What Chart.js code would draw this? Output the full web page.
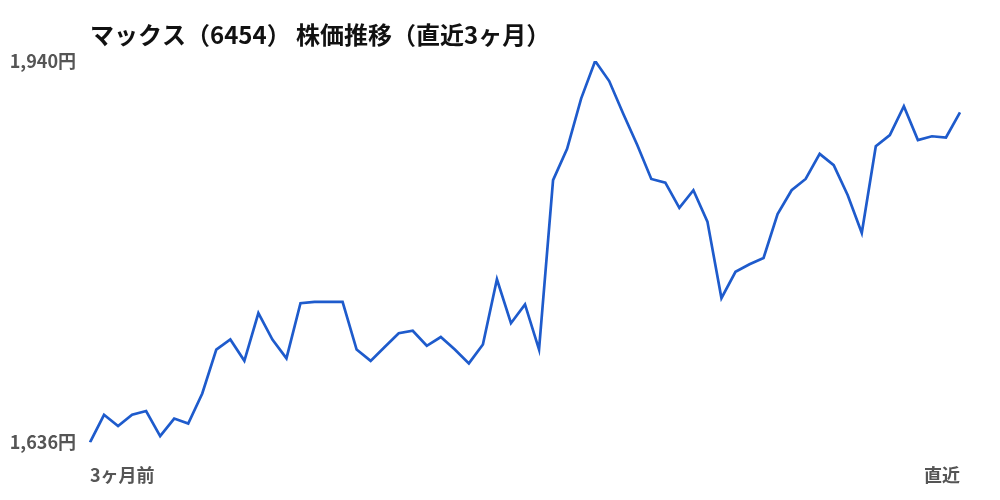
<!DOCTYPE html>
<html>
<head>
<meta charset="utf-8">
<script src="https://cdn.jsdelivr.net/npm/chart.js@4"></script>
<style>
    html, body { margin: 0; padding: 0; background: #fff; }
    #wrap { width: 1000px; height: 500px; }
</style>
</head>
<body>
<div id="wrap"><canvas id="priceChart" width="1000" height="500"></canvas></div>
<script>
// STOCK PRICE DATA (last 3 months, daily close)

const chartTitle = "マックス（6454） 株価推移（直近3ヶ月）";
const edgeLabels = ["3ヶ月前", "直近"];
const yTicks = [1636, 1940];

const prices = [
    1636, 1658, 1649, 1658, 1661, 1641, 1655, 1651, 1675, 1710,
    1718, 1701, 1739, 1718, 1703, 1747, 1748, 1748, 1748, 1710,
    1701, 1712, 1723, 1725, 1713, 1720, 1710, 1699, 1714, 1766,
    1731, 1746, 1710, 1845, 1870, 1910, 1940, 1924, 1898, 1873,
    1846, 1843, 1823, 1837, 1812, 1751, 1772, 1778, 1783, 1818,
    1837, 1846, 1866, 1857, 1833, 1803, 1872, 1881, 1904, 1877,
    1880, 1879, 1899
];

// one category per trading day, only first and last are shown
const days = prices.map((_, i) =>
    i === 0 ? edgeLabels[0] : i === prices.length - 1 ? edgeLabels[1] : ""
);

const FONT = "'Noto Sans CJK JP', 'Noto Sans', sans-serif";

// title drawn from the chart area's left edge
const titlePlugin = {
    id: "leftTitle",
    afterDraw(chart) {
        const ctx = chart.ctx;
        ctx.save();
        ctx.font = "bold 24px " + FONT;
        ctx.fillStyle = "#111";
        ctx.textAlign = "left";
        ctx.textBaseline = "middle";
        ctx.fillText(chartTitle, chart.chartArea.left, 35);
        ctx.restore();
    }
};

const ctx = document.getElementById("priceChart").getContext("2d");
new Chart(ctx, {
    type: "line",
    data: {
        labels: days,
        datasets: [{
            data: prices,
            borderColor: "#1e5bcc",
            borderWidth: 2.7,
            pointRadius: 0,
            tension: 0,
            fill: false
        }]
    },
    options: {
        responsive: false,
        animation: false,
        layout: { padding: { top: 61, right: 40, bottom: -8, left: 0 } },
        plugins: {
            legend: { display: false },
            tooltip: { enabled: false },
            title: { display: false }
        },
        scales: {
            x: {
                grid: { display: false, drawTicks: false },
                border: { display: false },
                ticks: {
                    autoSkip: false,
                    maxRotation: 0,
                    align: "inner",
                    padding: 22,
                    color: "#555",
                    font: { family: FONT, size: 18, weight: "bold" },
                    callback: (v, i) => days[i]
                }
            },
            y: {
                min: yTicks[0],
                max: yTicks[1],
                afterBuildTicks: s => { s.ticks = yTicks.map(v => ({ value: v })); },
                afterFit: s => { s.width = 90; },
                grid: { display: false, drawTicks: false },
                border: { display: false },
                ticks: {
                    padding: 14,
                    color: "#555",
                    font: { family: FONT, size: 18, weight: "bold" },
                    callback: v => v.toLocaleString("en-US") + "円"
                }
            }
        }
    },
    plugins: [titlePlugin]
});
</script>
</body>
</html>
